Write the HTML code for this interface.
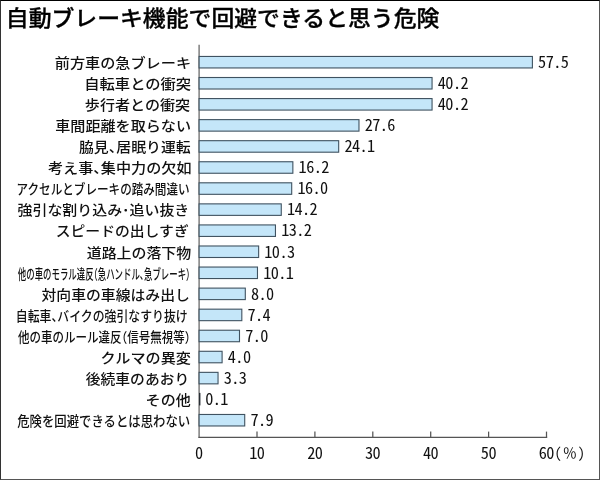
<!DOCTYPE html>
<html lang="ja">
<head>
<meta charset="utf-8">
<title>自動ブレーキ機能で回避できると思う危険</title>
<style>
html,body{margin:0;padding:0;background:#fff;}
body{width:600px;height:480px;position:relative;overflow:hidden;font-family:"Liberation Sans","Noto Sans CJK JP",sans-serif;color:#111;}
#frame{position:absolute;left:0;top:0;width:598px;height:478px;border:1px solid #555;border-top-color:#000;border-left-color:#333;}
#title{position:absolute;left:5.8px;top:-0.5px;font-size:22.85px;line-height:34px;font-weight:500;-webkit-text-stroke:0.35px #000;transform:scaleY(0.93);transform-origin:0 50%;white-space:nowrap;color:#000;letter-spacing:0px;font-family:"Noto Sans CJK JP",sans-serif;}
.lb{position:absolute;right:409.5px;height:20px;line-height:20px;font-size:14.9px;font-weight:500;white-space:nowrap;transform-origin:100% 50%;font-family:"Noto Sans CJK JP",sans-serif;color:#111;}
.pc{font-feature-settings:normal;font-size:14.2px;letter-spacing:0;font-weight:400;margin:0 0.2px 0 1.4px;position:relative;top:-1.2px;}
.pp{font-size:14.4px;font-weight:400;letter-spacing:0;display:inline-block;width:7.4px;text-align:center;position:relative;top:-1.4px;left:0.6px;}
#chart{position:absolute;left:0;top:0;}
.h{font-feature-settings:"halt";}
.val{position:absolute;height:20px;line-height:20px;font-size:16.3px;letter-spacing:-0.6px;white-space:nowrap;font-family:"Noto Sans CJK JP",sans-serif;font-feature-settings:"hwid";font-weight:400;color:#111;}
.tl{position:absolute;top:442px;transform:translate(-0.6px,-0.5px);width:40px;margin-left:-20px;text-align:center;height:20px;line-height:20px;font-size:16.3px;letter-spacing:-0.6px;white-space:nowrap;font-family:"Noto Sans CJK JP",sans-serif;font-feature-settings:"hwid";font-weight:400;color:#111;}
</style>
</head>
<body>
<div id="frame"></div>
<div id="title">自動ブレーキ機能で回避できると思う危険</div>

<div class="lb" id="l0" style="top:51.5px;right:408.99px;transform:scale(1.0167,0.92);">前方車の急ブレーキ</div>
<div class="val" id="v0" style="top:51px;left:538.1px">57.5</div>
<div class="lb" id="l1" style="top:72.5px;right:409.23px;transform:scale(1.0259,0.92);">自転車との衝突</div>
<div class="val" id="v1" style="top:72px;left:437.8px">40.2</div>
<div class="lb" id="l2" style="top:93.5px;right:409.49px;transform:scale(1.0111,0.92);">歩行者との衝突</div>
<div class="val" id="v2" style="top:93px;left:437.8px">40.2</div>
<div class="lb" id="l3" style="top:114.5px;right:409.25px;transform:scale(1.0129,0.92);">車間距離を取らない</div>
<div class="val" id="v3" style="top:114px;left:364.7px">27.6</div>
<div class="lb" id="l4" style="top:135.5px;right:409.51px;transform:scale(1.0002,0.92);">脇見<span class="h">、</span>居眠り運転</div>
<div class="val" id="v4" style="top:135px;left:344.4px">24.1</div>
<div class="lb" id="l5" style="top:156.5px;right:408.75px;transform:scale(1.0145,0.92);">考え事<span class="h">、</span>集中力の欠如</div>
<div class="val" id="v5" style="top:156px;left:298.6px">16.2</div>
<div class="lb" id="l6" style="top:177.5px;right:410.30px;transform:scale(0.7778,0.92);">アクセルとブレーキの踏み間違い</div>
<div class="val" id="v6" style="top:177px;left:297.4px">16.0</div>
<div class="lb" id="l7" style="top:198.5px;right:410.30px;transform:scale(1.0026,0.92);">強引な割り込み･追い抜き</div>
<div class="val" id="v7" style="top:198px;left:287.0px">14.2</div>
<div class="lb" id="l8" style="top:219.5px;right:411.16px;transform:scale(0.9949,0.92);">スピードの出しすぎ</div>
<div class="val" id="v8" style="top:219px;left:281.2px">13.2</div>
<div class="lb" id="l9" style="top:241.5px;right:409.00px;transform:scale(1.0029,0.92);">道路上の落下物</div>
<div class="val" id="v9" style="top:241px;left:264.3px">10.3</div>
<div class="lb" id="l10" style="top:262.5px;right:409.71px;transform:scale(0.5649,0.92);">他の車のモラル違反<span class="h">（</span>急ハンドル<span class="h">、</span>急ブレーキ<span class="h">）</span></div>
<div class="val" id="v10" style="top:262px;left:263.2px">10.1</div>
<div class="lb" id="l11" style="top:283.5px;right:410.07px;transform:scale(0.9971,0.92);">対向車の車線はみ出し</div>
<div class="val" id="v11" style="top:283px;left:251.0px">8.0</div>
<div class="lb" id="l12" style="top:304.5px;right:412.11px;transform:scale(0.7968,0.92);">自転車<span class="h">、</span>バイクの強引なすり抜け</div>
<div class="val" id="v12" style="top:304px;left:247.5px">7.4</div>
<div class="lb" id="l13" style="top:325.5px;right:409.41px;transform:scale(0.7712,0.92);">他の車のルール違反<span class="h">（</span>信号無視等<span class="h">）</span></div>
<div class="val" id="v13" style="top:325px;left:245.2px">7.0</div>
<div class="lb" id="l14" style="top:346.5px;right:409.50px;transform:scale(1.0158,0.92);">クルマの異変</div>
<div class="val" id="v14" style="top:346px;left:227.8px">4.0</div>
<div class="lb" id="l15" style="top:367.5px;right:410.59px;transform:scale(0.9925,0.92);">後続車のあおり</div>
<div class="val" id="v15" style="top:367px;left:223.7px">3.3</div>
<div class="lb" id="l16" style="top:388.5px;right:409.75px;transform:scale(1.0086,0.92);">その他</div>
<div class="val" id="v16" style="top:388px;left:205.2px">0.1</div>
<div class="lb" id="l17" style="top:409.5px;right:409.50px;transform:scale(0.8308,0.92);">危険を回避できるとは思わない</div>
<div class="val" id="v17" style="top:409px;left:250.4px">7.9</div>
<svg id="chart" width="600" height="480" viewBox="0 0 600 480"><g stroke="#555" stroke-width="1.25" fill="none"><path d="M199.1 44.7V438" stroke="#707070" stroke-width="1.35"/><path d="M198.5 437.35H547.2"/><path d="M257.0 431.6V437.4"/><path d="M314.9 431.6V437.4"/><path d="M372.8 431.6V437.4"/><path d="M430.7 431.6V437.4"/><path d="M488.6 431.6V437.4"/><path d="M546.5 431.6V437.4"/></g><g fill="#c4e6f9" stroke="#3f5260" stroke-width="1.1"><rect x="199.1" y="56.45" width="333.30" height="11.5"/><rect x="199.1" y="77.51" width="232.96" height="11.5"/><rect x="199.1" y="98.57" width="232.96" height="11.5"/><rect x="199.1" y="119.63" width="159.88" height="11.5"/><rect x="199.1" y="140.69" width="139.58" height="11.5"/><rect x="199.1" y="161.75" width="93.76" height="11.5"/><rect x="199.1" y="182.81" width="92.60" height="11.5"/><rect x="199.1" y="203.87" width="82.16" height="11.5"/><rect x="199.1" y="224.93" width="76.36" height="11.5"/><rect x="199.1" y="245.99" width="59.54" height="11.5"/><rect x="199.1" y="267.05" width="58.38" height="11.5"/><rect x="199.1" y="288.11" width="46.20" height="11.5"/><rect x="199.1" y="309.17" width="42.72" height="11.5"/><rect x="199.1" y="330.23" width="40.40" height="11.5"/><rect x="199.1" y="351.29" width="23.00" height="11.5"/><rect x="199.1" y="372.35" width="18.94" height="11.5"/><rect x="199.6" y="393.41" width="0.3" height="11.5" stroke="#1c2228" stroke-width="1"/><rect x="199.1" y="414.47" width="45.62" height="11.5"/></g></svg>
<div class="tl" style="left:199.5px">0</div>
<div class="tl" style="left:257.4px">10</div>
<div class="tl" style="left:315.3px">20</div>
<div class="tl" style="left:373.2px">30</div>
<div class="tl" style="left:431.1px">40</div>
<div class="tl" style="left:489.0px">50</div>
<div class="tl" style="left:546.9px;text-align:left;margin-left:-7.5px;width:60px">60<span class="pp">(</span><span class="pc">％</span><span class="pp">)</span></div>
</body>
</html>
